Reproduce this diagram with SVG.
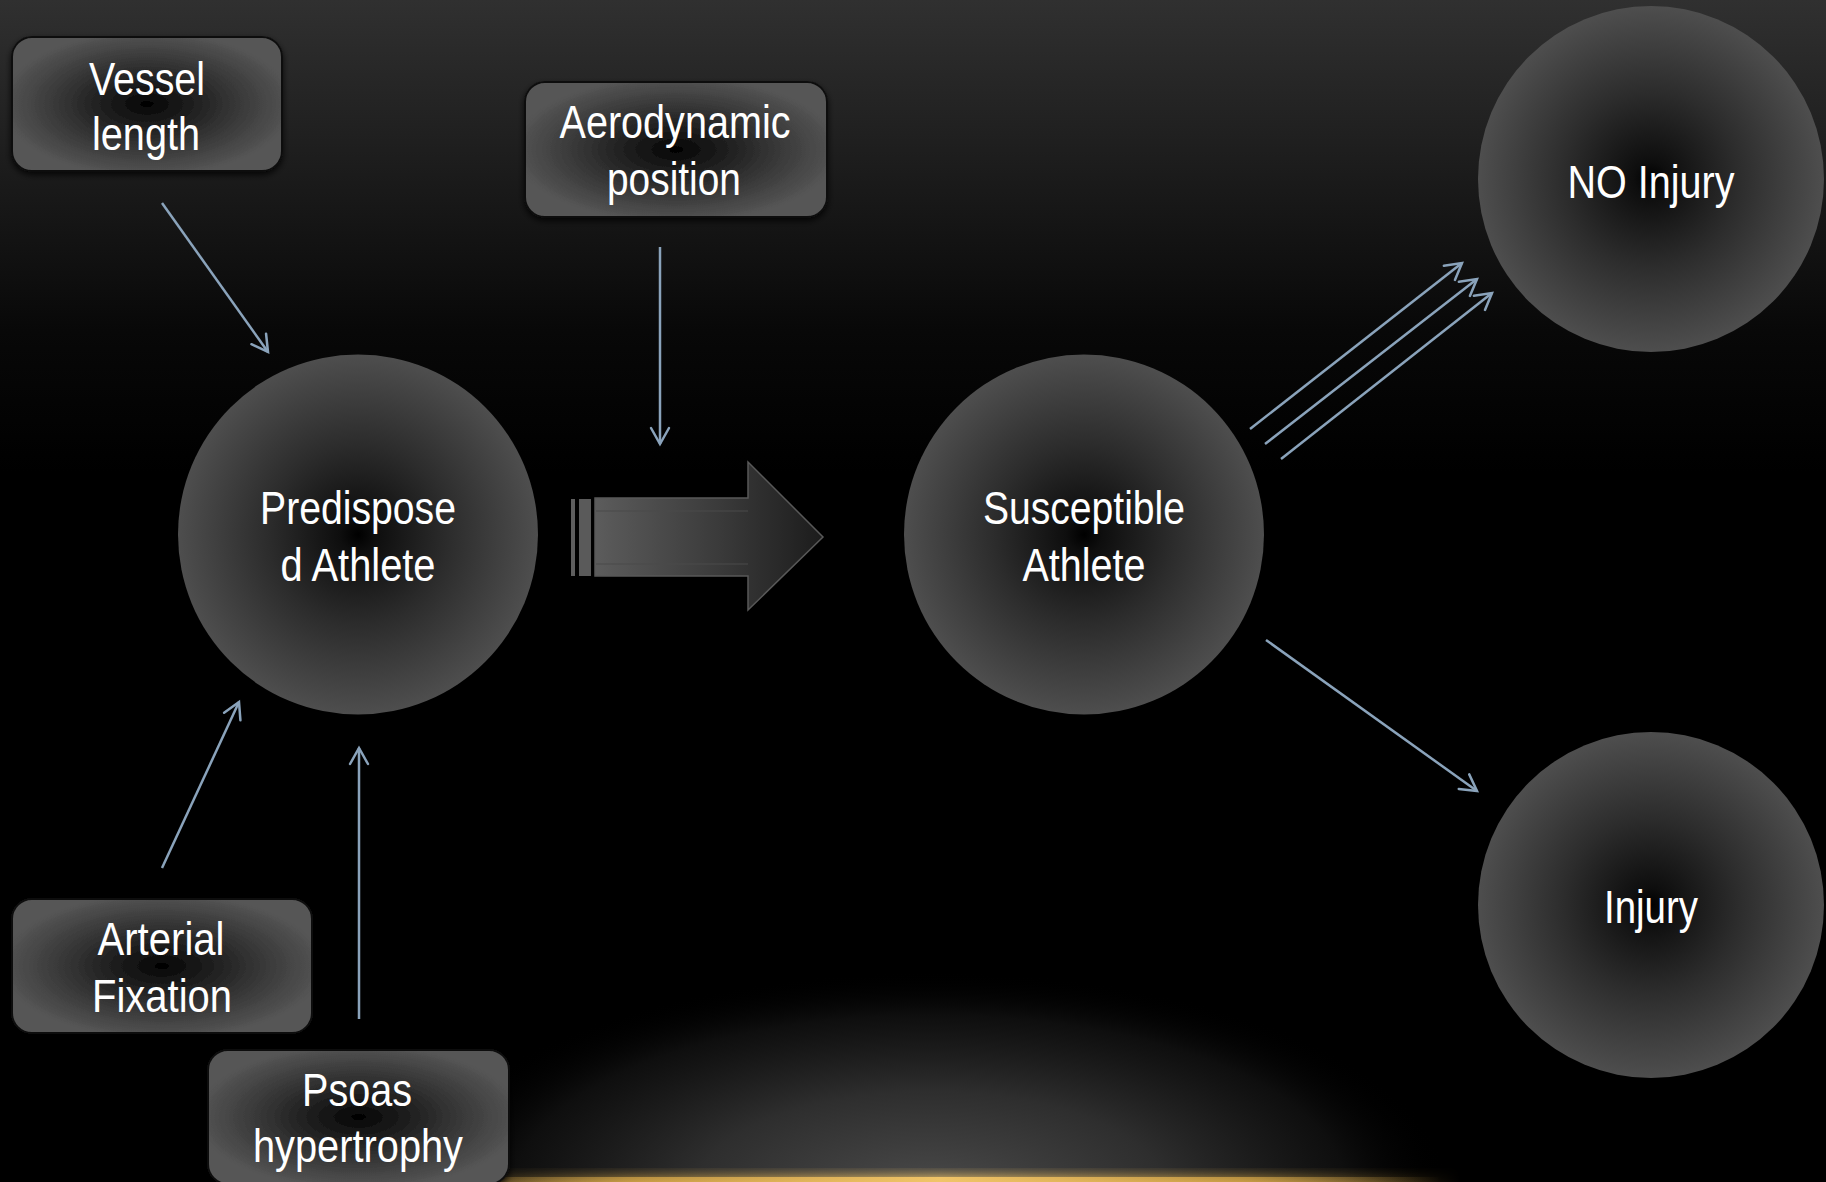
<svg xmlns="http://www.w3.org/2000/svg" width="1826" height="1182" viewBox="0 0 1826 1182">
<defs>
<style>
.lbl{font-family:"Liberation Sans Narrow","Liberation Sans",Arial,sans-serif;font-size:46px;fill:#ffffff;text-anchor:middle}
.box{fill:url(#boxg);stroke:#111111;stroke-width:2}
.circ{fill:url(#circg)}
.con{stroke:#8aa3bb;stroke-width:2.5;fill:none;marker-end:url(#ah)}
</style>
<linearGradient id="bg" x1="0" y1="0" x2="0" y2="1">
<stop offset="0" stop-color="#303030"/>
<stop offset="0.12" stop-color="#1f1f1f"/>
<stop offset="0.28" stop-color="#080808"/>
<stop offset="0.4" stop-color="#000000"/>
<stop offset="1" stop-color="#000000"/>
</linearGradient>
<radialGradient id="glow" gradientUnits="userSpaceOnUse" cx="930" cy="1190" r="520" fx="930" fy="1190" gradientTransform="translate(930 1190) scale(1 0.42) translate(-930 -1190)">
<stop offset="0" stop-color="#4a4a4a" stop-opacity="1"/>
<stop offset="0.45" stop-color="#2e2e2e" stop-opacity="1"/>
<stop offset="0.8" stop-color="#121212" stop-opacity="0.8"/>
<stop offset="1" stop-color="#000000" stop-opacity="0"/>
</radialGradient>
<linearGradient id="gold" x1="0" y1="0" x2="1" y2="0">
<stop offset="0" stop-color="#d8a848" stop-opacity="0"/>
<stop offset="0.2" stop-color="#d8a848" stop-opacity="0.7"/>
<stop offset="0.5" stop-color="#f0c468" stop-opacity="1"/>
<stop offset="0.8" stop-color="#d8a848" stop-opacity="0.7"/>
<stop offset="1" stop-color="#d8a848" stop-opacity="0"/>
</linearGradient>
<linearGradient id="goldv" x1="0" y1="0" x2="0" y2="1">
<stop offset="0" stop-color="#000000" stop-opacity="0"/>
<stop offset="1" stop-color="#ffffff" stop-opacity="1"/>
</linearGradient>
<mask id="goldmask">
<rect x="0" y="1162" width="1826" height="20" fill="url(#goldv)"/>
</mask>
<radialGradient id="boxg" cx="0.5" cy="0.5" r="0.55">
<stop offset="0" stop-color="#000000"/>
<stop offset="0.08" stop-color="#0c0c0c"/>
<stop offset="0.55" stop-color="#333333"/>
<stop offset="1" stop-color="#575757"/>
</radialGradient>
<radialGradient id="circg" cx="0.5" cy="0.5" r="0.5">
<stop offset="0" stop-color="#000000"/>
<stop offset="0.1" stop-color="#0e0e0e"/>
<stop offset="0.5" stop-color="#2c2c2c"/>
<stop offset="1" stop-color="#4e4e4e"/>
</radialGradient>
<linearGradient id="barg" x1="0" y1="0" x2="1" y2="0">
<stop offset="0" stop-color="#5c5c5c"/>
<stop offset="0.55" stop-color="#3a3a3a"/>
<stop offset="1" stop-color="#1c1c1c"/>
</linearGradient>
<marker id="ah" markerUnits="userSpaceOnUse" markerWidth="24" markerHeight="24" viewBox="0 0 24 24" refX="19" refY="12" orient="auto">
<path d="M3,3 L19,12 L3,21" fill="none" stroke="#8aa3bb" stroke-width="2.5" stroke-linecap="round" stroke-linejoin="miter"/>
</marker>
<filter id="sh" x="-10%" y="-10%" width="120%" height="130%">
<feDropShadow dx="0" dy="3" stdDeviation="3" flood-color="#000000" flood-opacity="0.8"/>
</filter>
</defs>

<g id="background">
<rect width="1826" height="1182" fill="url(#bg)"/>
<rect x="380" y="960" width="1100" height="222" fill="url(#glow)"/>
<rect x="420" y="1168" width="1040" height="14" fill="url(#gold)" mask="url(#goldmask)"/>
<rect x="440" y="1177" width="1000" height="5" fill="url(#gold)"/>
</g>

<g id="connectors">
<line class="con" x1="162" y1="203" x2="268" y2="352"/>
<line class="con" x1="660" y1="247" x2="660" y2="444"/>
<line class="con" x1="162" y1="868" x2="239" y2="702"/>
<line class="con" x1="359" y1="1019" x2="359" y2="748"/>
<line class="con" x1="1250" y1="429" x2="1462" y2="263"/>
<line class="con" x1="1265" y1="444" x2="1477" y2="279"/>
<line class="con" x1="1281" y1="459" x2="1492" y2="293"/>
<line class="con" x1="1266" y1="640" x2="1477" y2="791"/>
</g>

<g id="block-arrow">
<rect x="571" y="499" width="4" height="77" fill="#5e5e5e"/>
<rect x="579" y="499" width="12" height="77" fill="#5a5a5a"/>
<polygon points="595,498 748,498 748,462 823,537 748,610 748,576 595,576" fill="url(#barg)" stroke="#585858" stroke-width="1.5"/>
<line x1="596" y1="511" x2="748" y2="511" stroke="#4a4a4a" stroke-width="1.2"/>
<line x1="596" y1="564" x2="748" y2="564" stroke="#4a4a4a" stroke-width="1.2"/>
</g>

<g id="vessel-length">
<rect class="box" x="12" y="37" width="270" height="134" rx="20" filter="url(#sh)"/>
<text class="lbl" x="147" y="95" textLength="116" lengthAdjust="spacingAndGlyphs">Vessel</text>
<text class="lbl" x="146" y="150" textLength="108" lengthAdjust="spacingAndGlyphs">length</text>
</g>

<g id="aerodynamic-position">
<rect class="box" x="525" y="82" width="302" height="135" rx="20" filter="url(#sh)"/>
<text class="lbl" x="675" y="138" textLength="231" lengthAdjust="spacingAndGlyphs">Aerodynamic</text>
<text class="lbl" x="674" y="195" textLength="134" lengthAdjust="spacingAndGlyphs">position</text>
</g>

<g id="arterial-fixation">
<rect class="box" x="12" y="899" width="300" height="134" rx="20" filter="url(#sh)"/>
<text class="lbl" x="161" y="955" textLength="127" lengthAdjust="spacingAndGlyphs">Arterial</text>
<text class="lbl" x="162" y="1012" textLength="140" lengthAdjust="spacingAndGlyphs">Fixation</text>
</g>

<g id="psoas-hypertrophy">
<rect class="box" x="208" y="1050" width="301" height="134" rx="20" filter="url(#sh)"/>
<text class="lbl" x="357" y="1106" textLength="110" lengthAdjust="spacingAndGlyphs">Psoas</text>
<text class="lbl" x="358" y="1162" textLength="210" lengthAdjust="spacingAndGlyphs">hypertrophy</text>
</g>

<g id="predisposed-athlete">
<circle class="circ" cx="358" cy="534.5" r="180"/>
<text class="lbl" x="358" y="524" textLength="196" lengthAdjust="spacingAndGlyphs">Predispose</text>
<text class="lbl" x="358" y="581" textLength="155" lengthAdjust="spacingAndGlyphs">d Athlete</text>
</g>

<g id="susceptible-athlete">
<circle class="circ" cx="1084" cy="534.5" r="180"/>
<text class="lbl" x="1084" y="524" textLength="202" lengthAdjust="spacingAndGlyphs">Susceptible</text>
<text class="lbl" x="1084" y="581" textLength="123" lengthAdjust="spacingAndGlyphs">Athlete</text>
</g>

<g id="no-injury">
<circle class="circ" cx="1651" cy="179" r="173"/>
<text class="lbl" x="1651" y="198" textLength="167" lengthAdjust="spacingAndGlyphs">NO Injury</text>
</g>

<g id="injury">
<circle class="circ" cx="1651" cy="905" r="173"/>
<text class="lbl" x="1651" y="923" textLength="94" lengthAdjust="spacingAndGlyphs">Injury</text>
</g>
</svg>
